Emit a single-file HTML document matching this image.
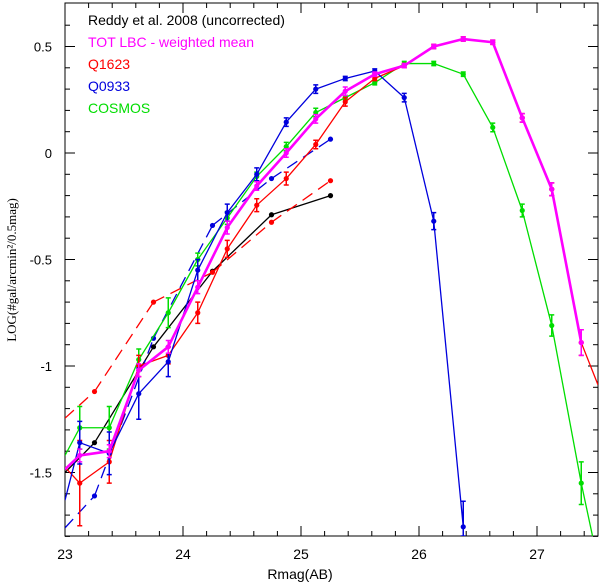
<!DOCTYPE html>
<html><head><meta charset="utf-8"><style>
html,body{margin:0;padding:0;background:#fff;overflow:hidden;width:600px;height:586px;}
svg{display:block;font-family:"Liberation Sans",sans-serif;}
</style></head><body>
<svg id="chart" width="600" height="586" viewBox="0 0 600 586" xmlns="http://www.w3.org/2000/svg">
<defs><clipPath id="clip"><rect x="65" y="3" width="533" height="533"/></clipPath></defs>
<g id="axes"></g>
<g id="series" clip-path="url(#clip)"></g>
<g id="legend" font-size="14">
<text x="88" y="25" fill="#000">Reddy et al. 2008 (uncorrected)</text>
<text x="88" y="47" fill="#ff00ff">TOT LBC - weighted mean</text>
<text x="88" y="69" fill="#ff0000">Q1623</text>
<text x="88" y="91" fill="#0000dd">Q0933</text>
<text x="88" y="113" fill="#00dd00">COSMOS</text>
</g>
<text x="300" y="579" text-anchor="middle" font-size="14">Rmag(AB)</text>
<text transform="translate(16,270) rotate(-90)" text-anchor="middle" font-size="13" font-family="'Liberation Serif',serif">LOG(#gal/arcmin²/0.5mag)</text>
</svg>
<script>
const magSolid=[22.875,23.125,23.375,23.625,23.875,24.125,24.375,24.625,24.875,25.125,25.375,25.625,25.875,26.125,26.375,26.625,26.875,27.125,27.375,27.625];
const totVals=[-1.55,-1.42,-1.40,-1.02,-0.91,-0.63,-0.35,-0.155,0.0,0.16,0.29,0.37,0.41,0.50,0.535,0.52,0.165,-0.17,-0.89,null];
const totErr=[0,0.03,0.03,0.03,0.03,0.03,0.03,0.02,0.02,0.02,0.02,0.01,0.01,0.01,0.01,0.01,0.02,0.03,0.06,0];
const cosmosVals=[-1.55,-1.29,-1.29,-0.97,-0.75,-0.50,-0.305,-0.11,0.03,0.19,0.26,0.33,0.42,0.42,0.37,0.12,-0.27,-0.81,-1.55,-2.2];
const cosmosErr=[0,0.1,0.1,0.05,0.07,0.03,0.03,0.02,0.02,0.02,0.01,0.01,0.01,0.01,0.01,0.02,0.03,0.05,0.1,0];
const q0933Vals=[-1.9,-1.36,-1.41,-1.13,-0.98,-0.55,-0.28,-0.10,0.145,0.30,0.35,0.385,0.26,-0.32,-1.755,null,null,null,null,null];
const q0933Err=[0,0.1,0.1,0.12,0.07,0.05,0.04,0.03,0.02,0.02,0.01,0.01,0.02,0.04,0.12,0,0,0,0,0];
const q1623Vals=[-1.40,-1.55,-1.45,-1.0,-0.95,-0.75,-0.45,-0.245,-0.12,0.04,0.24,0.35,0.41,0.50,0.535,0.52,0.165,-0.17,-0.89,-1.24];
const q1623Err=[0,0.2,0.1,0.05,0.04,0.05,0.04,0.03,0.03,0.02,0.02,0.01,0.01,0.01,0.01,0.01,0.02,0.03,0.06,0];
const magDash=[22.75,23.25,23.75,24.25,24.75,25.25];
const reddyVals=[-1.64,-1.36,-0.91,-0.555,-0.29,-0.20];
const q1623DashVals=[-1.37,-1.12,-0.70,-0.56,-0.325,-0.13];
const q0933DashVals=[-1.91,-1.61,-0.87,-0.34,-0.12,0.065];
const xTicks=[23,24,25,26,27];
const yTicks=[0.5,0,-0.5,-1,-1.5];
const yTickLabels=["0.5","0","-0.5","-1","-1.5"];

const NS="http://www.w3.org/2000/svg";
const X0=65,X1=598,Y0=3,Y1=536;
const xs=m=>X0+(m-23)*118;
const ys=v=>153-v*213;
function mk(tag,attrs,parent){const e=document.createElementNS(NS,tag);for(const k in attrs)e.setAttribute(k,attrs[k]);parent.appendChild(e);return e;}
const axes=document.getElementById('axes');
const frame=mk('rect',{x:X0,y:Y0,width:X1-X0,height:Y1-Y0,fill:'none',stroke:'#000','stroke-width':1},axes);


for(let m=23;m<=27.51;m+=0.2){const maj=Math.abs(m-Math.round(m))<0.01;const L=maj?10:5;
 mk('line',{x1:xs(m),x2:xs(m),y1:Y1,y2:Y1-L,stroke:'#000'},axes);
 mk('line',{x1:xs(m),x2:xs(m),y1:Y0,y2:Y0+L,stroke:'#000'},axes);}
for(let v=-1.8;v<=0.69;v+=0.1){const r=Math.round(v*10)/10;const maj=Math.abs(r*2-Math.round(r*2))<0.01;const L=maj?10:5;
 mk('line',{x1:X0,x2:X0+L,y1:ys(r),y2:ys(r),stroke:'#000'},axes);
 mk('line',{x1:X1,x2:X1-L,y1:ys(r),y2:ys(r),stroke:'#000'},axes);}
xTicks.forEach(t=>{const e=mk('text',{x:xs(t),y:559,'text-anchor':'middle','font-size':14},axes);e.textContent=String(t);
 
 });
yTicks.forEach((t,i)=>{const e=mk('text',{x:52,y:ys(t)+5,'text-anchor':'end','font-size':13},axes);e.textContent=yTickLabels[i];
 
 });

function clipSeg(x1,y1,x2,y2){
 let t0=0,t1=1;const dx=x2-x1,dy=y2-y1;
 const p=[-dx,dx,-dy,dy],q=[x1-X0,X1-x1,y1-Y0,Y1-y1];
 for(let i=0;i<4;i++){
  if(p[i]===0){if(q[i]<0)return null;}
  else{const t=q[i]/p[i];if(p[i]<0){if(t>t1)return null;if(t>t0)t0=t;}else{if(t<t0)return null;if(t<t1)t1=t;}}
 }
 return [x1+t0*dx,y1+t0*dy,x1+t1*dx,y1+t1*dy];
}
const inside=(x,y)=>x>=X0&&x<=X1&&y>=Y0&&y<=Y1;

const S=document.getElementById('series');
function draw(name,mags,vals,errs,color,width,dash){
 const g=mk('g',{},S);
 
 
 let d='';let prev=null;
 mags.forEach((m,i)=>{
  if(vals[i]===null){prev=null;return;}
  const pt=[xs(m),ys(vals[i])];
  if(prev){const c=clipSeg(prev[0],prev[1],pt[0],pt[1]);if(c)d+=`M${c[0].toFixed(2)},${c[1].toFixed(2)}L${c[2].toFixed(2)},${c[3].toFixed(2)}`;}
  prev=pt;
 });
 mk('path',{d:d,fill:'none',stroke:color,'stroke-width':width,'stroke-dasharray':dash||'none','stroke-linejoin':'round'},g);
 mags.forEach((m,i)=>{if(vals[i]===null)return;const x=xs(m),y=ys(vals[i]);
  if(!inside(x,y))return;
  const p=mk('circle',{cx:x,cy:y,r:2.6,fill:color},g);
  
  
  if(errs&&errs[i]>0){const e=errs[i]*213;
   const ya=Math.max(Y0,y-e),yb=Math.min(Y1,y+e);
   mk('path',{d:`M${x},${ya}V${yb}M${x-2.5},${ya}H${x+2.5}M${x-2.5},${yb}H${x+2.5}`,stroke:color,'stroke-width':1.5,fill:'none'},g);}
 });
}
draw('reddy-series',magDash,reddyVals,null,'#000',1.3);
draw('q1623-dashed',magDash,q1623DashVals,null,'#ff0000',1.3,'12,7');
draw('q0933-dashed',magDash,q0933DashVals,null,'#0000dd',1.3,'12,7');
draw('cosmos-series',magSolid,cosmosVals,cosmosErr,'#00dd00',1.3);
draw('q1623-series',magSolid,q1623Vals,q1623Err,'#ff0000',1.3);
draw('q0933-series',magSolid,q0933Vals,q0933Err,'#0000dd',1.3);
draw('tot-lbc-series',magSolid,totVals,totErr,'#ff00ff',2.6);
</script>
</body></html>
